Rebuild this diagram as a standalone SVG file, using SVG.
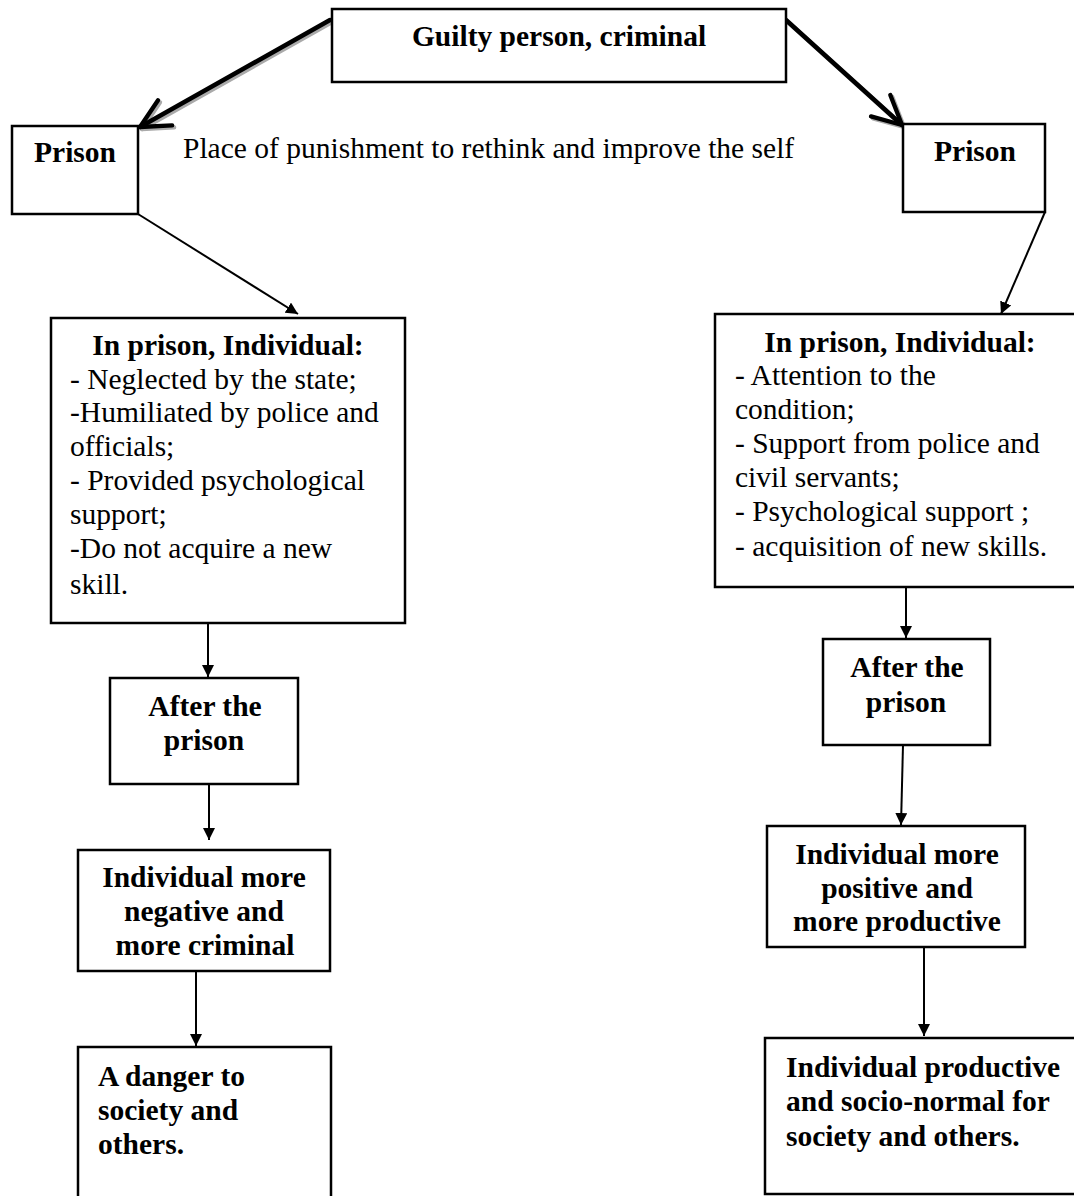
<svg xmlns="http://www.w3.org/2000/svg" width="1074" height="1196" viewBox="0 0 1074 1196">
<style>
.box{fill:#fff;stroke:#000;stroke-width:2.5}
.t{font-family:"Liberation Serif","Times New Roman",serif;font-size:29.5px;fill:#000}
.b{font-weight:bold}
.m{text-anchor:middle}
.c{stroke:#000;stroke-width:2;fill:none}
.thick{stroke:#000;stroke-width:4.5;fill:none;stroke-linecap:round}
.shadow{stroke:#aaa;stroke-width:4.5;fill:none;stroke-linecap:round}
</style>
<defs>
<marker id="tri" viewBox="0 0 10 10" refX="10" refY="5" markerWidth="12" markerHeight="12" markerUnits="userSpaceOnUse" orient="auto">
<path d="M0,0 L10,5 L0,10 z" fill="#000"/>
</marker>
<marker id="vee" viewBox="0 0 10 10" refX="9" refY="5" markerWidth="8" markerHeight="8" orient="auto">
<path d="M1,1 L9,5 L1,9" fill="none" stroke="#000" stroke-width="1.2" stroke-linecap="round" stroke-linejoin="round"/>
</marker>
<marker id="veeS" viewBox="0 0 10 10" refX="9" refY="5" markerWidth="8" markerHeight="8" orient="auto">
<path d="M1,1 L9,5 L1,9" fill="none" stroke="#aaa" stroke-width="1.2" stroke-linecap="round" stroke-linejoin="round"/>
</marker>
</defs>
<rect width="1074" height="1196" fill="#fff"/>

<g id="connectors">
<line class="shadow" x1="332" y1="22" x2="142" y2="129" marker-end="url(#veeS)"/>
<line class="thick" x1="330" y1="20" x2="140" y2="127" marker-end="url(#vee)"/>
<line class="shadow" x1="788" y1="22" x2="904" y2="127" marker-end="url(#veeS)"/>
<line class="thick" x1="786" y1="20" x2="902" y2="125" marker-end="url(#vee)"/>
<line class="c" x1="138" y1="214" x2="298" y2="314" marker-end="url(#tri)"/>
<line class="c" x1="1045" y1="212" x2="1001" y2="314" marker-end="url(#tri)"/>
<line class="c" x1="208" y1="623" x2="208" y2="677" marker-end="url(#tri)"/>
<line class="c" x1="209" y1="784" x2="209" y2="840" marker-end="url(#tri)"/>
<line class="c" x1="196" y1="971" x2="196" y2="1046" marker-end="url(#tri)"/>
<line class="c" x1="906" y1="587" x2="906" y2="638" marker-end="url(#tri)"/>
<line class="c" x1="903" y1="745" x2="901" y2="825" marker-end="url(#tri)"/>
<line class="c" x1="924" y1="947" x2="924" y2="1036" marker-end="url(#tri)"/>
</g>

<g id="caption">
<text class="t" x="183" y="158">Place of punishment to rethink and improve the self</text>
</g>

<g id="guilty">
<rect class="box" x="332" y="9" width="454" height="73"/>
<text class="t b m" x="559" y="46">Guilty person, criminal</text>
</g>

<g id="prison-left">
<rect class="box" x="12" y="126" width="126" height="88"/>
<text class="t b m" x="75" y="162">Prison</text>
</g>

<g id="prison-right">
<rect class="box" x="903" y="124" width="142" height="88"/>
<text class="t b m" x="975" y="161">Prison</text>
</g>

<g id="in-prison-left">
<rect class="box" x="51" y="318" width="354" height="305"/>
<text class="t b m" x="228" y="355">In prison, Individual:</text>
<text class="t" x="70" y="389">- Neglected by the state;</text>
<text class="t" x="70" y="422">-Humiliated by police and</text>
<text class="t" x="70" y="456">officials;</text>
<text class="t" x="70" y="490">- Provided psychological</text>
<text class="t" x="70" y="524">support;</text>
<text class="t" x="70" y="558">-Do not acquire a new</text>
<text class="t" x="70" y="594">skill.</text>
</g>

<g id="in-prison-right">
<rect class="box" x="715" y="314" width="365" height="273"/>
<text class="t b m" x="900" y="352">In prison, Individual:</text>
<text class="t" x="735" y="385">- Attention to the</text>
<text class="t" x="735" y="419">condition;</text>
<text class="t" x="735" y="453">- Support from police and</text>
<text class="t" x="735" y="487">civil servants;</text>
<text class="t" x="735" y="521">- Psychological support ;</text>
<text class="t" x="735" y="556">- acquisition of new skills.</text>
</g>

<g id="after-left">
<rect class="box" x="110" y="678" width="188" height="106"/>
<text class="t b m" x="205" y="716">After the</text>
<text class="t b m" x="204" y="750">prison</text>
</g>

<g id="after-right">
<rect class="box" x="823" y="639" width="167" height="106"/>
<text class="t b m" x="907" y="677">After the</text>
<text class="t b m" x="906" y="712">prison</text>
</g>

<g id="negative">
<rect class="box" x="78" y="850" width="252" height="121"/>
<text class="t b m" x="204" y="887">Individual more</text>
<text class="t b m" x="204" y="921">negative and</text>
<text class="t b m" x="205" y="955">more criminal</text>
</g>

<g id="positive">
<rect class="box" x="767" y="826" width="258" height="121"/>
<text class="t b m" x="897" y="864">Individual more</text>
<text class="t b m" x="897" y="898">positive and</text>
<text class="t b m" x="897" y="931">more productive</text>
</g>

<g id="danger">
<rect class="box" x="78" y="1047" width="253" height="160"/>
<text class="t b" x="98" y="1086">A danger to</text>
<text class="t b" x="98" y="1120">society and</text>
<text class="t b" x="98" y="1154">others.</text>
</g>

<g id="productive">
<rect class="box" x="765" y="1038" width="320" height="156"/>
<text class="t b" x="786" y="1077">Individual productive</text>
<text class="t b" x="786" y="1111">and socio-normal for</text>
<text class="t b" x="786" y="1146">society and others.</text>
</g>
</svg>
